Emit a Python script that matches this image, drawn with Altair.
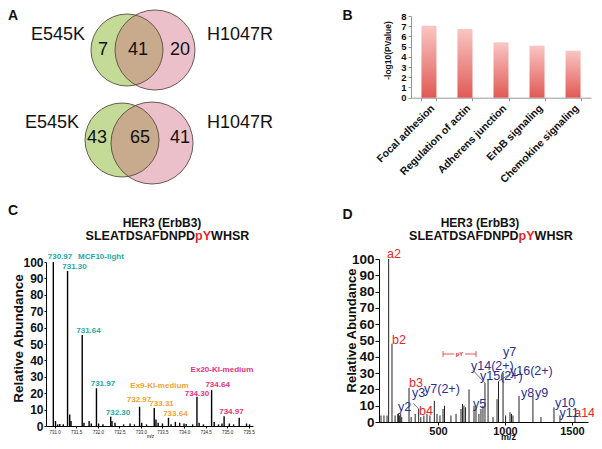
import altair as alt
import pandas as pd

FONT = "Liberation Sans"

# ---------------- Panel A : Venn diagrams (venn units) ----------------
venn_kind = ["green", "pink", "green", "pink"]
venn_cx = [2.975, 3.675, 2.85, 3.6]
venn_cy = [1.05, 1.05, 3.3, 3.375]
venn_r = [0.9, 1.0, 0.925, 1.025]

venn_names = ["E545K", "H1047R", "E545K", "H1047R"]
venn_name_x = [1.25, 5.8, 1.1, 5.8]
venn_name_y = [0.675, 0.675, 2.875, 2.875]

venn_counts = ["7", "41", "20", "43", "65", "41"]
venn_count_x = [2.375, 3.25, 4.3, 2.225, 3.3, 4.3]
venn_count_y = [1.05, 1.05, 1.05, 3.25, 3.25, 3.25]

# ---------------- Panel B : pathway enrichment ----------------
pathways = ["Focal adhesion", "Regulation of actin", "Adherens junction",
            "ErbB signaling", "Chemokine signaling"]
neglog_p = [7.05, 6.73, 5.42, 5.09, 4.6]
b_ticks = [0, 1, 2, 3, 4, 5, 6, 7, 8]

# ---------------- Panel C : MS1 spectrum ----------------
c_peak_mz = [730.97, 731.30, 731.35, 731.64, 731.97, 732.30, 732.97, 733.31,
             733.64, 734.30, 734.64, 734.93, 735.28]
c_peak_int = [100, 94.5, 7, 55.5, 23, 5.7, 11.8, 11, 5, 17.9, 22, 6, 5]
c_noise_mz = [731.02, 731.07, 731.12, 731.2, 731.38, 731.68, 731.8, 731.85,
              732.02, 732.12, 732.33, 732.4, 732.6, 732.75, 732.85, 733.02,
              733.13, 733.35, 733.4, 733.5, 733.7, 733.8, 733.9, 734.0, 734.05,
              734.2, 734.35, 734.45, 734.7, 734.8, 734.88, 735.05, 735.15,
              735.45, 735.52]
c_noise_int = [3, 1, 1.2, 1, 3, 2, 3, 1.5, 1.5, 1, 3, 2, 1, 1.5, 1, 2, 1, 4, 2,
               1.5, 1, 2.5, 2, 1.5, 1.2, 1, 2, 1, 2.5, 1, 1.5, 1.5, 1, 1.5, 1]
c_ticks = [731.0, 731.5, 732.0, 732.5, 733.0, 733.5, 734.0, 734.5, 735.0, 735.5]
c_label_text = ["730.97", "MCF10-light", "731.30", "731.64", "731.97", "732.30",
                "732.97", "Ex9-KI-medium", "733.31", "733.64",
                "734.30", "Ex20-KI-medium", "734.64", "734.97"]
c_label_mz = [731.125, 732.075, 731.46, 731.785, 732.12, 732.47,
              732.957, 733.43, 733.48, 733.80,
              734.30, 734.88, 734.78, 735.10]
c_label_y = [103, 103, 97, 58, 25.6, 7.9, 15.9, 24.4, 13.4, 7.3,
             19.5, 34.1, 25, 8.5]
c_label_group = ["light"] * 6 + ["ex9"] * 4 + ["ex20"] * 4

# ---------------- Panel D : MS/MS spectrum ----------------
d_mz = [75, 97, 120, 132, 157, 180, 200, 206, 212, 222, 230, 284, 300, 330, 356,
        372, 395, 418, 440, 473, 493, 515, 538, 549, 597, 635, 672, 683, 694,
        706, 732, 769, 784, 806, 821, 836, 851, 874, 911, 941, 952, 986, 1005,
        1038, 1049, 1060, 1105, 1209, 1269, 1366, 1411, 1523]
d_int = [4, 4, 4, 100, 48, 4, 5, 5, 4, 5, 3, 21, 3, 5, 8, 3, 4, 5, 4, 13, 5, 4,
         8, 10, 4, 5, 8, 11, 10, 9, 20, 10, 9, 5, 8, 10, 24, 26, 3, 14, 25, 30,
         4, 6, 5, 4, 16, 16, 3, 9, 4, 4]
d_ticks_x = [500, 1000, 1500]
d_ticks_y = [0, 10, 20, 30, 40, 50, 60, 70, 80, 90, 100]
d_label_text = ["a2", "b2", "b3", "y3", "y7(2+)", "y2", "b4", "y5", "y14(2+)",
                "y7", "y15(2+)", "y16(2+)", "y8", "y9", "y10", "y11", "a14"]
d_label_mz = [120, 157, 284, 306, 396, 202, 359, 762, 747, 986, 814, 1038,
              1120, 1224, 1374, 1408, 1517]
d_label_y = [103, 50.3, 23.9, 17.8, 20.2, 9.2, 6.7, 11, 34.4, 42.9, 28.2, 31.3,
             17.8, 17.8, 11.7, 5.5, 5.5]
d_label_ion = ["ab", "ab", "ab", "y", "y", "y", "ab", "y", "y", "y", "y", "y",
               "y", "y", "y", "y", "ab"]
d_lead_x = [316, 759, 1038]
d_lead_y = [11.5, 31.9, 29.4]
d_lead_x2 = [356, 851, 952]
d_lead_y2 = [8, 24, 25]
py_seg_x = [538, 702]
py_seg_x2 = [620, 784]
py_level = 41.7
py_end_x = [538, 784]

# =================== build panels ===================
# ---- A ----
vx = alt.X("x:Q", scale=alt.Scale(domain=[0, 7], range=[0, 280], zero=False, nice=False), axis=None)
vy = alt.Y("y:Q", scale=alt.Scale(domain=[0, 5.5], range=[0, 220], zero=False, nice=False), axis=None)
vr = alt.Radius("r:Q", stack=False,
                scale=alt.Scale(type="linear", domain=[0, 1], range=[0, 40], zero=True))
circ = pd.DataFrame({"x": venn_cx, "y": venn_cy, "r": venn_r, "kind": venn_kind})
arc_kw = dict(theta=0, theta2=6.2832)
green = alt.Chart(circ).transform_filter(alt.datum.kind == "green").mark_arc(
    fill="#c3db97", **arc_kw).encode(x=vx, y=vy, radius=vr)
pink = alt.Chart(circ).transform_filter(alt.datum.kind == "pink").mark_arc(
    fill="#d0617c", fillOpacity=0.4, **arc_kw).encode(x=vx, y=vy, radius=vr)
outline = alt.Chart(circ).mark_arc(fillOpacity=0, stroke="#5b4b42", strokeWidth=0.9,
                                   **arc_kw).encode(x=vx, y=vy, radius=vr)
names = alt.Chart(pd.DataFrame({"x": venn_name_x, "y": venn_name_y, "t": venn_names})).mark_text(
    font=FONT, fontSize=18, color="#111").encode(x=vx, y=vy, text="t:N")
counts = alt.Chart(pd.DataFrame({"x": venn_count_x, "y": venn_count_y, "t": venn_counts})).mark_text(
    font=FONT, fontSize=18, color="#111").encode(x=vx, y=vy, text="t:N")
venn = alt.layer(green, pink, outline, names, counts)

# ---- B ----
bdf = pd.DataFrame({"x": pathways, "y": neglog_p})
bx = alt.X("x:N", sort=pathways,
           scale=alt.Scale(range=[403, 583], paddingInner=0.583, paddingOuter=0.29),
           axis=alt.Axis(orient="bottom", offset=-343.3, title=None, labelAngle=-45,
                         labelFont=FONT, labelFontSize=10.5, labelFontWeight="bold",
                         labelColor="#111", tickBand="extent", tickSize=3,
                         tickColor="#999", domainColor="#999", labelPadding=2, grid=False))
by = alt.Y("y:Q", scale=alt.Scale(domain=[0, 8], range=[89.7, 8], nice=False, zero=True),
           axis=alt.Axis(orient="left", offset=-403, values=b_ticks, title="-log10(PValue)",
                         titleFont=FONT, titleFontSize=8.5, titleFontWeight="bold",
                         titleX=-19, titleY=42, titleBaseline="bottom", titleColor="#111",
                         labelFont=FONT, labelFontSize=9.5, labelFontWeight="bold",
                         labelColor="#111", tickSize=3, tickColor="#999",
                         domainColor="#999", labelPadding=2, grid=False))
bars = alt.Chart(bdf).mark_bar(color=alt.Gradient(
    gradient="linear",
    stops=[alt.GradientStop(color="#f9c6c4", offset=0),
           alt.GradientStop(color="#e05a55", offset=1)],
    x1=0, x2=0, y1=0, y2=1)).encode(x=bx, y=by)
panel_b = alt.layer(bars)

# ---- C ----
cX = alt.X("x:Q", scale=alt.Scale(domain=[730.8, 735.6], range=[38, 245], nice=False, zero=False),
           axis=alt.Axis(orient="bottom", offset=-15, values=c_ticks, format=".1f",
                         labelFont=FONT, labelFontSize=4.5, labelColor="#222",
                         labelPadding=1, labelFlush=False, labelOverlap=False,
                         tickSize=2, tickColor="black", domainColor="black",
                         title="m/z", titleFont=FONT, titleFontSize=4.5,
                         titleFontWeight="normal", titleX=142, titleY=10,
                         titleBaseline="middle", grid=False))
cY = alt.Y("y:Q", scale=alt.Scale(domain=[0, 100], range=[418, 254], nice=False, zero=True),
           axis=alt.Axis(orient="left", offset=-38, values=d_ticks_y,
                         labelFont=FONT, labelFontSize=12, labelFontWeight="bold",
                         labelColor="#111", tickSize=2, labelPadding=1,
                         tickColor="black", domainColor="black",
                         title="Relative Abundance", titleFont=FONT, titleFontSize=13.5,
                         titleFontWeight="bold", titleX=-21, titleY=330,
                         titleBaseline="bottom", titleColor="#111", grid=False))
cdf = pd.DataFrame({"x": c_peak_mz + c_noise_mz, "y": c_peak_int + c_noise_int})
c_rules = alt.Chart(cdf).mark_rule(color="black", strokeWidth=1.4).encode(
    x=cX, y=cY, y2=alt.datum(0))
clab = pd.DataFrame({"x": c_label_mz, "y": c_label_y, "t": c_label_text, "g": c_label_group})
c_colors = {"light": "#1fa8a8", "ex9": "#f5a235", "ex20": "#e8327c"}
c_texts = [alt.Chart(clab).transform_filter(alt.datum.g == g).mark_text(
    font=FONT, fontSize=8, fontWeight="bold", color=col).encode(x=cX, y=cY, text="t:N")
    for g, col in c_colors.items()]
panel_c = alt.layer(c_rules, *c_texts)

# ---- D ----
dX = alt.X("x:Q", scale=alt.Scale(domain=[60, 1620], range=[371, 580], nice=False, zero=False),
           axis=alt.Axis(orient="bottom", offset=-19, values=d_ticks_x, format="d",
                         labelFont=FONT, labelFontSize=11, labelFontWeight="bold",
                         labelColor="#111", labelPadding=0, labelFlush=False,
                         tickSize=3, tickColor="black", domainColor="black",
                         title="m/z", titleFont=FONT, titleFontSize=9,
                         titleFontWeight="bold", titleX=500, titleY=14,
                         titleBaseline="middle", titleColor="#111", grid=False))
dY = alt.Y("y:Q", scale=alt.Scale(domain=[0, 100], range=[414, 251], nice=False, zero=True),
           axis=alt.Axis(orient="left", offset=-371, values=d_ticks_y,
                         labelFont=FONT, labelFontSize=13.5, labelFontWeight="bold",
                         labelColor="#111", tickSize=4, labelPadding=1,
                         tickColor="black", domainColor="black",
                         title="Relative Abundance", titleFont=FONT, titleFontSize=13,
                         titleFontWeight="bold", titleX=-21, titleY=322,
                         titleBaseline="bottom", titleColor="#111", grid=False))
ddf = pd.DataFrame({"x": d_mz, "y": d_int})
d_rules = alt.Chart(ddf).mark_rule(color="#222", strokeWidth=1).encode(x=dX, y=dY, y2=alt.datum(0))
lead = pd.DataFrame({"x": d_lead_x, "y": d_lead_y, "x2": d_lead_x2, "y2": d_lead_y2})
d_leads = alt.Chart(lead).mark_rule(color="#555", strokeWidth=0.8).encode(
    x=dX, y=dY, x2="x2:Q", y2="y2:Q")
seg = pd.DataFrame({"x": py_seg_x, "x2": py_seg_x2, "y": [py_level] * 2})
d_seg = alt.Chart(seg).mark_rule(color="#e8262a", strokeWidth=0.8).encode(x=dX, x2="x2:Q", y=dY)
ends = pd.DataFrame({"x": py_end_x, "y": [py_level - 1.8] * 2, "y2": [py_level + 1.8] * 2})
d_ends = alt.Chart(ends).mark_rule(color="#e8262a", strokeWidth=0.8).encode(x=dX, y=dY, y2="y2:Q")
d_pytext = alt.Chart(pd.DataFrame({"x": [(py_seg_x2[0] + py_seg_x[1]) / 2], "y": [py_level], "t": ["pY"]})).mark_text(
    font=FONT, fontSize=6, fontWeight="bold", color="#e8262a").encode(x=dX, y=dY, text="t:N")
dlab = pd.DataFrame({"x": d_label_mz, "y": d_label_y, "t": d_label_text, "g": d_label_ion})
d_colors = {"ab": "#e8262a", "y": "#2b2f8f"}
d_texts = [alt.Chart(dlab).transform_filter(alt.datum.g == g).mark_text(
    font=FONT, fontSize=12.5, align="left", baseline="middle", color=col).encode(
    x=dX, y=dY, text="t:N") for g, col in d_colors.items()]
panel_d = alt.layer(d_rules, d_leads, d_seg, d_ends, d_pytext, *d_texts)


# ---- annotations (panel letters and titles) ----
def note(text, x, y, size, color="#111", weight="bold", align="center"):
    return alt.Chart(pd.DataFrame({"t": [text]})).mark_text(
        font=FONT, fontSize=size, fontWeight=weight, color=color, align=align,
        baseline="middle").encode(text="t:N", x=alt.value(x), y=alt.value(y))


notes = [
    note("A", 0, 8, 14, align="left"), note("B", 339.5, 8, 14),
    note("C", 0, 203, 14, align="left"), note("D", 339.5, 207, 14),
    note("HER3 (ErbB3)", 154, 215, 12), note("HER3 (ErbB3)", 472, 215, 12),
    note("SLEATDSAFDNPD", 187.1, 228, 12.5, align="right"),
    note("pY", 187.1, 228, 12.5, color="#e8262a", align="left"),
    note("WHSR", 203.1, 228, 12.5, align="left"),
    note("SLEATDSAFDNPD", 510.6, 228, 12.5, align="right"),
    note("pY", 510.6, 228, 12.5, color="#e8262a", align="left"),
    note("WHSR", 526.6, 228, 12.5, align="left"),
]

chart = alt.layer(venn, panel_b, panel_c, panel_d, *notes).resolve_scale(
    x="independent", y="independent"
).properties(
    width=586, height=433, padding=0, autosize=alt.AutoSizeParams(type="none")
).configure_view(stroke="transparent")

chart.save("out.html", embed_options={"renderer": "svg", "actions": False})
